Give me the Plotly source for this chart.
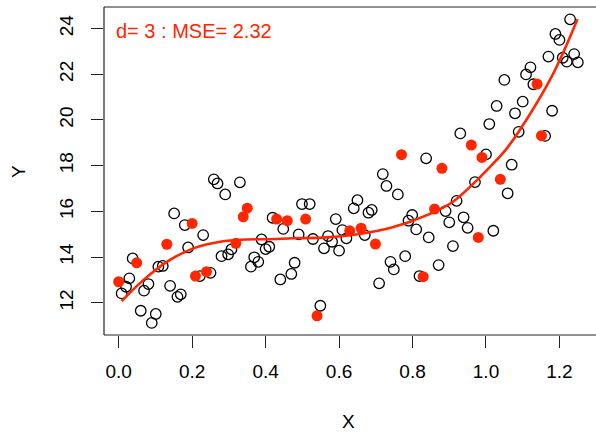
import plotly.graph_objects as go

# Training points (open circles)
train_x = [0.008, 0.020, 0.029, 0.038, 0.060, 0.069, 0.081, 0.090, 0.101, 0.108,
           0.120, 0.140, 0.151, 0.160, 0.169, 0.180, 0.189, 0.221, 0.230, 0.250,
           0.259, 0.269, 0.280, 0.290, 0.298, 0.307, 0.330, 0.360, 0.369, 0.380,
           0.389, 0.400, 0.410, 0.419, 0.448, 0.440, 0.470, 0.479, 0.490, 0.499,
           0.520, 0.529, 0.549, 0.559, 0.570, 0.581, 0.591, 0.600, 0.609, 0.620,
           0.640, 0.650, 0.670, 0.680, 0.689, 0.709, 0.719, 0.729, 0.740, 0.749,
           0.760, 0.780, 0.789, 0.799, 0.810, 0.819, 0.837, 0.844, 1.000, 1.070,
           0.970, 1.059, 0.920, 0.890, 0.939, 0.900, 0.950, 1.020, 0.910, 0.871,
           1.229, 1.189, 1.200, 1.170, 1.209, 1.240, 1.220, 1.250, 1.121, 1.109,
           1.050, 1.129, 1.029, 1.100, 1.079, 1.009, 1.180, 0.930, 1.089, 1.161]
train_y = [12.41, 12.70, 13.07, 13.94, 11.65, 12.53, 12.82, 11.12, 11.51, 13.58,
           13.61, 12.74, 15.91, 12.26, 12.37, 15.40, 14.42, 13.17, 14.96, 13.31,
           17.40, 17.22, 14.04, 16.74, 14.12, 14.34, 17.27, 13.58, 13.99, 13.79,
           14.77, 14.35, 14.45, 15.72, 15.23, 13.02, 13.26, 13.75, 14.99, 16.32,
           16.32, 14.79, 11.87, 14.38, 14.92, 14.67, 15.66, 14.28, 15.18, 14.82,
           16.13, 16.49, 14.96, 15.94, 16.06, 12.85, 17.63, 17.11, 13.79, 13.46,
           16.74, 14.04, 15.59, 15.84, 15.21, 13.17, 18.32, 14.86, 18.49, 18.04,
           17.28, 16.79, 16.46, 16.01, 15.74, 15.52, 15.28, 15.15, 14.48, 13.65,
           24.40, 23.76, 23.50, 22.77, 22.72, 22.88, 22.55, 22.52, 22.30, 21.99,
           21.75, 21.56, 20.61, 20.80, 20.29, 19.82, 20.40, 19.41, 19.48, 19.30]

# Test points (filled red)
test_x = [0.000, 0.049, 0.131, 0.200, 0.209, 0.239, 0.319, 0.339, 0.350, 0.430,
          0.459, 0.509, 0.540, 0.629, 0.660, 0.699, 0.770, 0.829, 0.860, 0.880,
          0.960, 0.979, 0.989, 1.039, 1.139, 1.151]
test_y = [12.92, 13.75, 14.56, 15.47, 13.17, 13.36, 14.60, 15.76, 16.14, 15.66,
          15.59, 15.66, 11.43, 15.15, 15.26, 14.57, 18.48, 13.14, 16.10, 17.88,
          18.90, 14.86, 18.36, 17.40, 21.57, 19.31]

# Fitted cubic curve
curve_x = [0.008, 0.067, 0.131, 0.203, 0.276, 0.348, 0.402, 0.475, 0.565, 0.656,
           0.746, 0.846, 0.910, 0.970, 1.005, 1.053, 1.089, 1.181, 1.249]
curve_y = [12.07, 12.99, 13.79, 14.38, 14.67, 14.77, 14.78, 14.82, 14.86, 15.01,
           15.30, 15.88, 16.42, 17.28, 17.85, 18.68, 19.48, 21.96, 24.40]

x_ticks = [0.0, 0.2, 0.4, 0.6, 0.8, 1.0, 1.2]
x_tick_text = ["0.0", "0.2", "0.4", "0.6", "0.8", "1.0", "1.2"]
y_ticks = [12, 14, 16, 18, 20, 22, 24]
label_text = "d= 3 : MSE= 2.32"

RED = "#FF2600"
FONT = "Liberation Sans, Arial, Helvetica, sans-serif"
FS = 19

fig = go.Figure()
fig.add_trace(go.Scatter(
    x=train_x, y=train_y, mode="markers",
    marker=dict(symbol="circle-open", size=10.5, color="black", line=dict(width=1.3, color="black")),
    showlegend=False, hoverinfo="skip"))
fig.add_trace(go.Scatter(
    x=test_x, y=test_y, mode="markers",
    marker=dict(symbol="circle", size=11, color=RED, line=dict(width=0)),
    showlegend=False, hoverinfo="skip"))
fig.add_trace(go.Scatter(
    x=curve_x, y=curve_y, mode="lines",
    line=dict(color=RED, width=2.6, shape="spline", smoothing=1.0),
    showlegend=False, hoverinfo="skip"))

fig.update_layout(
    width=596, height=433,
    margin=dict(l=104, r=0, t=7, b=98, autoexpand=False),
    paper_bgcolor="white", plot_bgcolor="white",
    font=dict(family=FONT, size=FS, color="black"),
    xaxis=dict(range=[-0.04, 1.2995], tickvals=x_ticks, ticktext=x_tick_text,
               showgrid=False, zeroline=False, showline=False,
               ticks="outside", ticklen=12, tickwidth=1, tickcolor="#222",
               ticklabelstandoff=7, automargin=False,
               tickfont=dict(family=FONT, size=FS, color="black")),
    yaxis=dict(range=[10.59, 24.94], tickvals=y_ticks,
               showgrid=False, zeroline=False, showline=False,
               ticks="outside", ticklen=12, tickwidth=1, tickcolor="#222",
               tickangle=-90, ticklabelstandoff=10, automargin=False,
               tickfont=dict(family=FONT, size=FS, color="black")),
    shapes=[
        dict(type="line", xref="paper", yref="paper", x0=0, x1=0, y0=0, y1=1,
             line=dict(color="#222", width=1.2)),
        dict(type="line", xref="paper", yref="paper", x0=0, x1=1, y0=0, y1=0,
             line=dict(color="#222", width=1.2)),
        dict(type="line", xref="paper", yref="paper", x0=0, x1=1, y0=1, y1=1,
             line=dict(color="#222", width=1.2)),
    ],
    annotations=[
        dict(text=label_text, x=-0.014, y=23.87, xref="x", yref="y",
             xanchor="left", yanchor="middle", showarrow=False,
             font=dict(family=FONT, size=20, color=RED)),
        dict(text="X", x=0.497, y=-0.265, xref="paper", yref="paper",
             xanchor="center", yanchor="middle", showarrow=False,
             font=dict(family=FONT, size=FS, color="black")),
        dict(text="Y", x=-0.175, y=0.5, xref="paper", yref="paper",
             xanchor="center", yanchor="middle", showarrow=False, textangle=-90,
             font=dict(family=FONT, size=FS, color="black")),
    ],
)

fig.write_html("out.html", config={"displayModeBar": False},
               post_script="document.body.style.margin='0';document.body.style.padding='0';")
